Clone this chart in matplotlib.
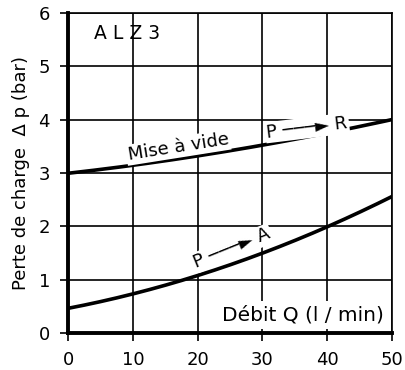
import numpy as np
import matplotlib.pyplot as plt

plt.rcParams['font.family'] = ['DejaVu Sans']

debit = [0, 10, 20, 30, 40, 50]
mise_a_vide = [3.0, 3.13, 3.33, 3.52, 3.75, 4.0]
p_vers_a = [0.47, 0.73, 1.05, 1.52, 2.0, 2.55]

xticks = [0, 10, 20, 30, 40, 50]
yticks = [0, 1, 2, 3, 4, 5, 6]

fig = plt.figure(figsize=(4.05, 3.70), dpi=100)
ax = fig.add_axes([0.168, 0.1, 0.80, 0.865])

# smooth curves through the read points
xs = np.linspace(0, 50, 200)
c1 = np.polyfit(debit, mise_a_vide, 2)
c2 = np.polyfit(debit, p_vers_a, 2)
ax.plot(xs, np.polyval(c1, xs), color='black', lw=2.6, zorder=3)
ax.plot(xs, np.polyval(c2, xs), color='black', lw=2.6, zorder=3)

ax.set_xlim(0, 50)
ax.set_ylim(0, 6)
ax.set_xticks(xticks)
ax.set_yticks(yticks)
ax.grid(True, color='black', lw=1.2)
ax.set_axisbelow(True)
for s in ['top', 'right']:
    ax.spines[s].set_linewidth(1.2)
for s in ['left', 'bottom']:
    ax.spines[s].set_linewidth(2.8)
ax.tick_params(length=6, width=1.2, labelsize=13, pad=7)

ax.set_ylabel('Perte de charge  Δ p (bar)', fontsize=13, labelpad=6)

box = dict(facecolor='white', edgecolor='none', pad=1)
ax.text(4.0, 5.62, 'A L Z 3', fontsize=13.5, va='center', ha='left')
ax.text(9.0, 3.24, 'Mise à vide', fontsize=13, rotation=9,
        va='baseline', ha='left', bbox=box, zorder=4)
ax.text(30.5, 3.66, 'P ───► R', fontsize=13, rotation=7,
        va='baseline', ha='left', bbox=box, zorder=4)
ax.text(19.0, 1.22, 'P ───► A', fontsize=13, rotation=22,
        va='baseline', ha='left', bbox=box, zorder=4)
ax.text(48.8, 0.34, 'Débit Q (l / min)', fontsize=14.5, va='center',
        ha='right', bbox=dict(facecolor='white', edgecolor='none', pad=3),
        zorder=4)

fig.savefig('out.png', dpi=100)
